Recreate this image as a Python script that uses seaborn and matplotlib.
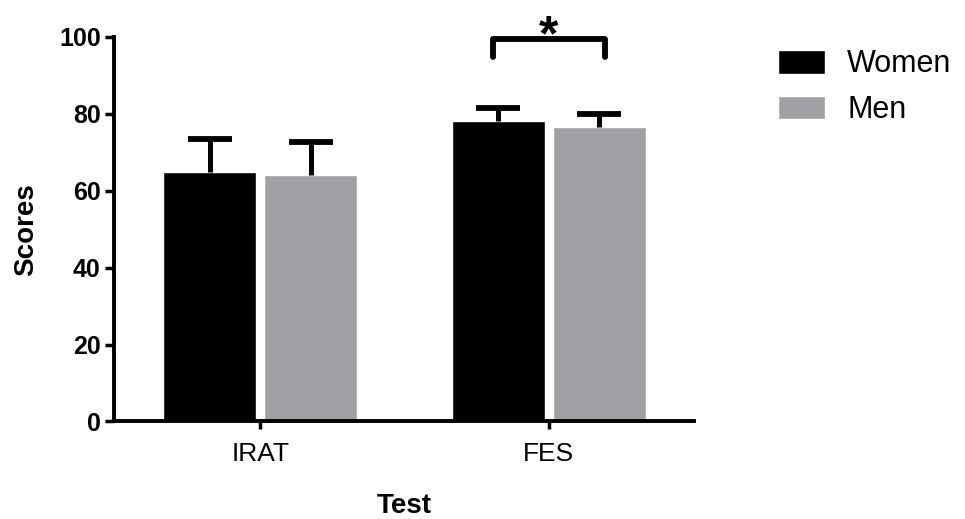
import numpy as np
import pandas as pd
import matplotlib
matplotlib.use("Agg")
import matplotlib.pyplot as plt
import seaborn as sns

# valeurs
tests = ["IRAT", "FES"]
groupes = ["Women", "Men"]
moyennes_women = [64.9, 78.2]
moyennes_men = [64.0, 76.6]
erreurs_women = [8.5, 3.4]
erreurs_men = [8.7, 3.4]
couleurs = ["#000000", "#a1a0a5"]
# crochet de significativite (FES)
crochet_haut = 99.4
crochet_bas = 94.7

data = pd.DataFrame({
    "Test": tests * 2,
    "Sexe": ["Women"] * len(tests) + ["Men"] * len(tests),
    "Score": moyennes_women + moyennes_men,
})

sns.set_style("ticks", {"axes.edgecolor": "black", "text.color": "black",
                        "xtick.color": "black", "ytick.color": "black",
                        "axes.labelcolor": "black"})
plt.rcParams["font.family"] = ["Liberation Sans", "DejaVu Sans"]

fig = plt.figure(figsize=(9.65, 5.19), dpi=100)
ax = fig.add_axes([0.118, 0.188, 0.601, 0.741])

sns.barplot(data=data, x="Test", y="Score", hue="Sexe", order=tests, hue_order=groupes,
            palette=couleurs, width=0.7, gap=0.08, errorbar=None, saturation=1, ax=ax)

# barres d'erreur (vers le haut seulement)
centres = []
for cont, moy, err in zip(ax.containers, [moyennes_women, moyennes_men], [erreurs_women, erreurs_men]):
    xs = [b.get_x() + b.get_width() / 2 for b in cont]
    centres.append(xs)
    eb = ax.errorbar(xs, moy, yerr=[np.zeros(len(err)), err], fmt="none", ecolor="black",
                     elinewidth=3.6, capsize=15.5, capthick=4.2, zorder=5)
    eb.lines[1][0].set_visible(False)  # pas de cap en bas

# crochet + etoile entre Women et Men pour FES
x1 = centres[0][1] - 0.02
x2 = centres[1][1] + 0.02
ax.plot([x1, x1, x2, x2], [crochet_bas, crochet_haut, crochet_haut, crochet_bas],
        color="black", lw=4.2, clip_on=False, zorder=6)
ax.text((x1 + x2) / 2, crochet_haut - 5.5, "*", ha="center", va="bottom",
        fontsize=36, fontweight="bold", clip_on=False)

ax.set_xlim(-0.507, 1.502)
ax.set_ylim(0, 100)
ax.set_yticks(range(0, 101, 20))
sns.despine(ax=ax)
for s in ["left", "bottom"]:
    ax.spines[s].set_linewidth(2.8)
ax.tick_params(axis="y", length=6.5, width=2.5, pad=3, labelsize=18)
ax.tick_params(axis="x", length=6, width=2.5, pad=9, labelsize=19)
for lab in ax.get_yticklabels():
    lab.set_fontweight("bold")

ax.set_xlabel("Test", fontsize=20, fontweight="bold", labelpad=19)
ax.set_ylabel("Scores", fontsize=20, fontweight="bold", labelpad=14)

handles, labels = ax.get_legend_handles_labels()
ax.legend(handles, labels, loc="upper left", bbox_to_anchor=(0.806, 0.905),
          bbox_transform=fig.transFigure, frameon=False, fontsize=22,
          borderpad=0, borderaxespad=0, handlelength=1.54, handleheight=0.82,
          handletextpad=0.73, labelspacing=0.52, title=None)

plt.savefig("out.png", dpi=100)
